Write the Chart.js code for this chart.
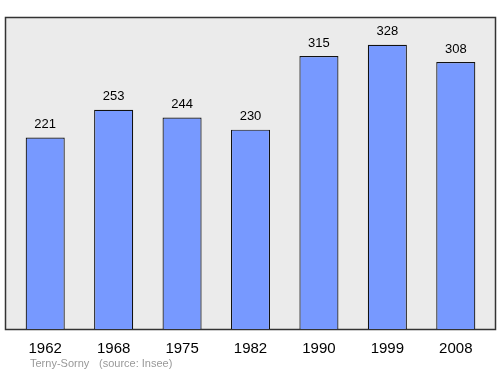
<!DOCTYPE html>
<html>
<head>
<meta charset="utf-8">
<script src="https://cdn.jsdelivr.net/npm/chart.js@4/dist/chart.umd.min.js"></script>
<style>
  body { margin: 0; background: #fff; }
  #wrap { width: 500px; height: 374px; }
</style>
</head>
<body>
<div id="wrap"><canvas id="grafica"></canvas></div>
<script>
const annees = ["1962","1968","1975","1982","1990","1999","2008"];
const habitants = [221,253,244,230,315,328,308];
const commune = "Terny-Sorny";
const source = "(source: Insee)";

// fond gris + cadre, un peu plus large que la zone des barres
const cadre = {
  id: 'cadre',
  beforeDraw(chart) {
    const { ctx, chartArea: a } = chart;
    ctx.save();
    ctx.fillStyle = '#ebebeb';
    ctx.strokeStyle = '#333';
    ctx.lineWidth = 1.5;
    ctx.fillRect(a.left - 6, a.top, a.width + 12, a.height);
    ctx.strokeRect(a.left - 6 + 0.5, a.top + 0.5, a.width + 11, a.height);
    ctx.restore();
  },
  afterDatasetsDraw(chart) {
    const { ctx } = chart;
    const meta = chart.getDatasetMeta(0);
    ctx.save();
    ctx.font = '13px "Liberation Sans", Arial, sans-serif';
    ctx.fillStyle = '#000';
    ctx.textAlign = 'center';
    ctx.textBaseline = 'middle';
    meta.data.forEach((bar, i) => {
      ctx.fillText(habitants[i], bar.x, bar.y - 13);
    });
    ctx.font = '11px "Liberation Sans", Arial, sans-serif';
    ctx.fillStyle = '#999';
    ctx.textAlign = 'left';
    ctx.fillText(commune, 30, 364);
    ctx.fillText(source, 99, 364);
    ctx.restore();
  }
};

var chart = new Chart(document.getElementById('grafica'), {
  type: 'bar',
  data: {
    labels: annees,
    datasets: [{
      data: habitants,
      backgroundColor: '#7799ff',
      borderColor: '#111',
      borderWidth: 1.2,
      barPercentage: 0.571,
      categoryPercentage: 1
    }]
  },
  options: {
    responsive: true,
    maintainAspectRatio: false,
    animation: false,
    layout: { padding: { left: 11, right: 10, top: 17, bottom: 0 } },
    plugins: { legend: { display: false }, tooltip: { enabled: false } },
    scales: {
      x: {
        grid: { display: false },
        border: { display: false },
        ticks: { color: '#000', padding: 3, font: { family: '"Liberation Sans", Arial, sans-serif', size: 15 } },
        afterFit(s) { s.height = 45; }
      },
      y: { display: false, min: 0, max: 360 }
    }
  },
  plugins: [cadre]
});
</script>
</body>
</html>
